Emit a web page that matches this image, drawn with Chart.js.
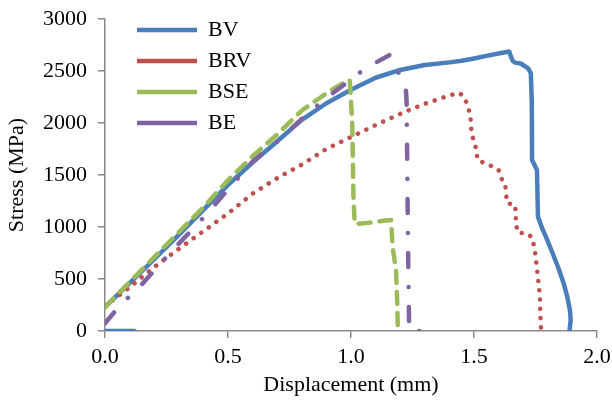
<!DOCTYPE html>
<html>
<head>
<meta charset="utf-8">
<script src="https://cdn.jsdelivr.net/npm/chart.js@4"></script>
<style>
html,body{margin:0;padding:0;background:#fff;}
#wrap{width:612px;height:402px;}
</style>
</head>
<body>
<div id="wrap"><canvas id="c" width="612" height="402"></canvas></div>
<script>
// ---- data (displacement mm, stress MPa) ----
const seriesNames = ["BV", "BRV", "BSE", "BE"];
const xTicks = [0.0, 0.5, 1.0, 1.5, 2.0];
const yTicks = [0, 500, 1000, 1500, 2000, 2500, 3000];

const BV = [[0,0],[0.12,0],null,[0,230],[0.1,460],[0.2,690],[0.3,925],[0.4,1165],[0.5,1405],[0.6,1620],
  [0.7,1825],[0.8,2030],[0.9,2190],[1.0,2320],[1.1,2435],[1.2,2510],[1.3,2558],[1.4,2583],[1.45,2598],
  [1.5,2620],[1.55,2645],[1.6,2668],[1.643,2688],[1.65,2640],[1.658,2595],[1.67,2578],[1.69,2572],
  [1.72,2526],[1.731,2478],[1.735,2200],[1.736,1644],[1.756,1548],[1.76,1099],[1.775,1000],[1.792,907],
  [1.82,745],[1.846,587],[1.865,455],[1.879,330],[1.89,200],[1.893,106],[1.888,0]];

const BRV = [[0,240],[0.1,420],[0.2,615],[0.3,790],[0.4,960],[0.5,1130],[0.6,1320],[0.7,1470],[0.8,1600],
  [0.9,1750],[1.0,1865],[1.1,1980],[1.2,2088],[1.3,2185],[1.4,2265],[1.44,2290],[1.46,2250],[1.473,2173],
  [1.485,2077],[1.49,1904],[1.51,1740],[1.514,1644],[1.57,1587],[1.6,1548],[1.61,1471],[1.627,1413],
  [1.63,1317],[1.635,1230],[1.667,1212],[1.67,1125],[1.67,1029],[1.68,942],[1.712,942],[1.735,904],
  [1.743,827],[1.75,731],[1.755,615],[1.76,519],[1.764,423],[1.768,327],[1.769,231],[1.77,135],
  [1.772,48],[1.772,0]];

const BSE = [[0,230],[0.1,470],[0.2,710],[0.3,950],[0.4,1190],[0.5,1450],[0.6,1680],[0.7,1890],[0.8,2120],
  [0.9,2285],[0.95,2360],[0.995,2413],[1.005,2000],[1.01,1300],[1.015,1030],[1.05,1035],[1.1,1050],
  [1.15,1065],[1.163,1067],[1.169,811],[1.183,587],[1.188,269],[1.19,40]];

const BE = [[0,75],[0.05,215],[0.1,335],[0.15,450],[0.2,580],[0.25,712],[0.3,840],[0.4,1090],[0.5,1360],
  [0.6,1630],[0.7,1820],[0.8,2040],[0.9,2240],[1.0,2420],[1.05,2510],[1.1,2580],[1.157,2654],[1.18,2540],
  [1.205,2433],[1.222,2365],[1.226,2200],[1.229,1500],[1.232,800],[1.236,80],[1.236,0],[1.35,0]];

function toPts(arr){
  let last = 0;
  return arr.map(p => {
    if (p === null) return {x: last, y: null};
    last = p[0];
    return {x: p[0], y: p[1]};
  });
}

const FONT = "'Liberation Serif', 'Times New Roman', serif";
const AXIS = '#898989';

const common = {showLine: true, pointRadius: 0, pointHoverRadius: 0, fill: false, tension: 0,
  borderJoinStyle: 'round', spanGaps: false};

const datasets = [
  Object.assign({}, common, {label: seriesNames[0], data: toPts(BV), borderColor: '#4A7EBB',
    borderWidth: 4.5, borderCapStyle: 'round', order: 4}),
  Object.assign({}, common, {label: seriesNames[1], data: toPts(BRV), borderColor: '#C0504D',
    borderWidth: 4.5, borderCapStyle: 'round', borderDash: [0.1, 9.2], order: 3}),
  Object.assign({}, common, {label: seriesNames[2], data: toPts(BSE), borderColor: '#9BBB59',
    borderWidth: 4.5, borderCapStyle: 'round', borderDash: [12, 9], order: 2}),
  Object.assign({}, common, {label: seriesNames[3], data: toPts(BE), borderColor: '#8064A2',
    borderWidth: 4.5, borderCapStyle: 'round', borderDash: [14, 20, 0.1, 20], order: 1})
];

const legendShift = {
  id: 'legendShift',
  beforeDraw(chart){
    const l = chart.legend;
    if (l) { l.left = chart.chartArea.left + 23; l.top = chart.chartArea.top - 9; }
  }
};

new Chart(document.getElementById('c'), {
  type: 'scatter',
  data: {datasets},
  plugins: [legendShift],
  options: {
    responsive: false,
    animation: false,
    devicePixelRatio: 1,
    layout: {padding: {top: 19, right: 15, left: 0, bottom: 0}},
    plugins: {
      tooltip: {enabled: false},
      legend: {
        position: 'chartArea',
        align: 'start',
        labels: {
          usePointStyle: true,
          pointStyle: 'line',
          pointStyleWidth: 60,
          padding: 9,
          color: '#000',
          font: {family: FONT, size: 22},
          sort: (a, b) => a.datasetIndex - b.datasetIndex
        }
      }
    },
    scales: {
      x: {
        type: 'linear', min: 0, max: 2,
        afterFit: s => { s.height = 71; s.paddingLeft = 0; s.paddingRight = 0; },
        afterBuildTicks: s => { s.ticks = xTicks.map(v => ({value: v})); },
        ticks: {color: '#000', font: {family: FONT, size: 22}, padding: 6,
          callback: v => Number(v).toFixed(1)},
        grid: {display: true, drawOnChartArea: false, drawTicks: true, tickLength: 7, color: AXIS, lineWidth: 1.5},
        border: {display: true, color: AXIS, width: 1.5},
        title: {display: true, text: 'Displacement (mm)', color: '#000',
          font: {family: FONT, size: 22}, padding: {top: 0, bottom: 4}}
      },
      y: {
        type: 'linear', min: 0, max: 3000,
        afterFit: s => { s.width = 105; s.paddingTop = 0; s.paddingBottom = 0; },
        afterBuildTicks: s => { s.ticks = yTicks.map(v => ({value: v})); },
        ticks: {color: '#000', font: {family: FONT, size: 22}, padding: 11,
          callback: v => String(v)},
        grid: {display: true, drawOnChartArea: false, drawTicks: true, tickLength: 7, color: AXIS, lineWidth: 1.5},
        border: {display: true, color: AXIS, width: 1.5},
        title: {display: true, text: 'Stress (MPa)', color: '#000',
          font: {family: FONT, size: 22}, padding: {top: 4, bottom: 0}}
      }
    }
  }
});
</script>
</body>
</html>
